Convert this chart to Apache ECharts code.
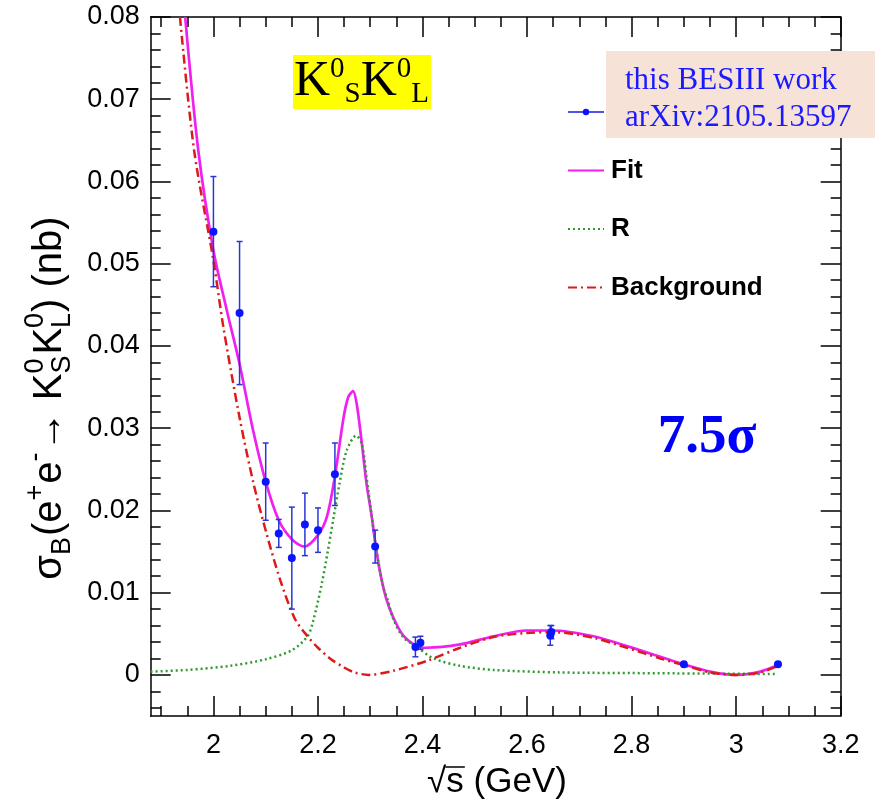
<!DOCTYPE html>
<html><head><meta charset="utf-8">
<script src="https://cdn.jsdelivr.net/npm/echarts@6/dist/echarts.min.js"></script>
<style>html,body{margin:0;padding:0;background:#fff}#c{width:875px;height:807px}</style>
</head><body><div id="c"></div>
<script>
// ---- data ----
const ptX   = [2.0, 2.05, 2.1, 2.125, 2.15, 2.175, 2.2, 2.2324, 2.3094, 2.3864, 2.396, 2.6444, 2.6464, 2.9, 3.08];
const ptY   = [0.0539, 0.0440, 0.0235, 0.0172, 0.0142, 0.0183, 0.0176, 0.0244, 0.0156, 0.0034, 0.0039, 0.0048, 0.0052, 0.0013, 0.0013];
const ptErr = [0.0067, 0.0087, 0.0047, 0.0017, 0.0062, 0.0038, 0.0027, 0.0038, 0.0020, 0.0012, 0.0008, 0.0012, 0.0008, 0.0001, 0.0001];

const fitX = [1.946, 1.971, 2.000, 2.025, 2.050, 2.075, 2.100, 2.125, 2.150, 2.174, 2.200, 2.217, 2.232, 2.249, 2.258, 2.267, 2.274, 2.284, 2.293, 2.303, 2.309, 2.317, 2.330, 2.344, 2.363, 2.389, 2.408, 2.472, 2.536, 2.600, 2.650, 2.727, 2.791, 2.855, 2.899, 2.950, 3.000, 3.046, 3.080];
const fitY = [0.0800, 0.0638, 0.0516, 0.0445, 0.0378, 0.0300, 0.0235, 0.0188, 0.0165, 0.0156, 0.0170, 0.0192, 0.0240, 0.0313, 0.0338, 0.0345, 0.0330, 0.0281, 0.0232, 0.0192, 0.0163, 0.0131, 0.0094, 0.0070, 0.0048, 0.0035, 0.0033, 0.0037, 0.0047, 0.0054, 0.0054, 0.0047, 0.0035, 0.0022, 0.0013, 0.0004, 0.0000, 0.0004, 0.0012];

const rX = [1.880, 1.950, 2.032, 2.100, 2.150, 2.180, 2.191, 2.207, 2.219, 2.230, 2.241, 2.255, 2.273, 2.284, 2.293, 2.303, 2.312, 2.325, 2.333, 2.344, 2.363, 2.389, 2.421, 2.472, 2.536, 2.663, 2.850, 3.080];
const rY = [0.0004, 0.0006, 0.0011, 0.0019, 0.0030, 0.0047, 0.0066, 0.0110, 0.0151, 0.0192, 0.0232, 0.0273, 0.0291, 0.0281, 0.0240, 0.0192, 0.0151, 0.0106, 0.0092, 0.0068, 0.0046, 0.0034, 0.0020, 0.0011, 0.0006, 0.0003, 0.0002, 0.0001];

const bgX = [1.936, 1.963, 2.000, 2.019, 2.050, 2.077, 2.102, 2.128, 2.156, 2.180, 2.200, 2.225, 2.250, 2.270, 2.297, 2.344, 2.408, 2.472, 2.536, 2.600, 2.650, 2.727, 2.791, 2.855, 2.899, 2.950, 3.000, 3.046, 3.080];
const bgY = [0.0800, 0.0638, 0.0504, 0.0423, 0.0313, 0.0232, 0.0171, 0.0115, 0.0068, 0.0047, 0.0033, 0.0019, 0.0009, 0.0003, 0.0000, 0.0005, 0.0017, 0.0033, 0.0046, 0.0051, 0.0052, 0.0045, 0.0033, 0.0020, 0.0012, 0.0003, 0.0000, 0.0003, 0.0011];

const xTicks = [2.0, 2.2, 2.4, 2.6, 2.8, 3.0, 3.2];
const xTickLabels = ['2', '2.2', '2.4', '2.6', '2.8', '3', '3.2'];
const yTicks = [0, 0.01, 0.02, 0.03, 0.04, 0.05, 0.06, 0.07, 0.08];
const yTickLabels = ['0', '0.01', '0.02', '0.03', '0.04', '0.05', '0.06', '0.07', '0.08'];

const xMin = 1.88, xMax = 3.2, yMin = -0.005, yMax = 0.08;

// minor tick positions (0.05 GeV and 0.002 nb steps)
const xMinor = [];
for (let i = 38; i <= 64; i++) { if (i % 4 !== 0) xMinor.push(i * 0.05); }
const yMinor = [];
for (let i = -2; i <= 40; i++) { if (i % 5 !== 0) yMinor.push(i * 0.002); }

// ---- helpers ----
const pair = (xs, ys) => xs.map((x, i) => [x, ys[i]]);
const SANS = 'Liberation Sans';
const SERIF = 'Liberation Serif';
const ctx = document.createElement('canvas').getContext('2d');
function tw(t, size, fam, weight) { ctx.font = (weight || 'normal') + ' ' + size + 'px "' + fam + '"'; return ctx.measureText(t).width; }

function buildTitle(pieces, M, S) {
  const kids = [];
  let x = 0;
  const supY = 0.36 * M - 0.47 * M - 0.36 * S;
  const subY = 0.36 * M + 0.20 * M - 0.36 * S;
  const mk = (t, size, xx, yy) => ({ type: 'text', x: xx, y: yy, style: { text: t, font: size + 'px "' + SANS + '"', fill: '#000', verticalAlign: 'middle', align: 'left' } });
  pieces.forEach(p => {
    if (p.stack) {
      kids.push(mk(p.stack[0], S, x, supY));
      kids.push(mk(p.stack[1], S, x, subY));
      x += Math.max(tw(p.stack[0], S, SANS), tw(p.stack[1], S, SANS)) + 1;
    } else if (p.sup) {
      kids.push(mk(p.t, S, x, supY)); x += tw(p.t, S, SANS) + 1;
    } else if (p.sub) {
      kids.push(mk(p.t, S, x, subY)); x += tw(p.t, S, SANS) + 1;
    } else {
      kids.push(mk(p.t, M, x, 0)); x += tw(p.t, M, SANS);
    }
  });
  kids.forEach(k => { k.x -= x / 2; });
  return { kids, width: x };
}

const yTitle = buildTitle([
  { t: 'σ' }, { t: 'B', sub: true }, { t: '(e' }, { t: '+', sup: true }, { t: 'e' }, { t: '-', sup: true },
  { t: '→ K' }, { stack: ['0', 'S'] }, { t: 'K' }, { stack: ['0', 'L'] }, { t: ') (nb)' }
], 40, 27);

const xtM = 35;
const xtW1 = tw('√', xtM, SANS), xtW2 = tw('s', xtM, SANS), xtW3 = tw(' (GeV)', xtM, SANS);
const xtW = xtW1 + xtW2 + xtW3;

const chart = echarts.init(document.getElementById('c'), null, { renderer: 'canvas' });

const axisCommon = { type: 'value', splitLine: { show: false } };
const lineBlack = { color: '#000', width: 1.5 };

function xAx(pos, major, labels) {
  return Object.assign({}, axisCommon, {
    position: pos, min: xMin, max: xMax,
    axisLine: { show: major, onZero: false, lineStyle: lineBlack },
    axisTick: { show: true, inside: true, length: major ? 20 : 10, customValues: major ? xTicks : xMinor, lineStyle: lineBlack },
    axisLabel: labels ? {
      show: true, customValues: xTicks, margin: 16, color: '#000', fontSize: 27, fontFamily: SANS,
      formatter: v => xTickLabels[xTicks.findIndex(t => Math.abs(t - v) < 1e-6)]
    } : { show: false }
  });
}
function yAx(pos, major, labels) {
  return Object.assign({}, axisCommon, {
    position: pos, min: yMin, max: yMax,
    axisLine: { show: major, onZero: false, lineStyle: lineBlack },
    axisTick: { show: true, inside: true, length: major ? 20 : 10, customValues: major ? yTicks : yMinor, lineStyle: lineBlack },
    axisLabel: labels ? {
      show: true, customValues: yTicks, margin: 11, color: '#000', fontSize: 27, fontFamily: SANS,
      formatter: v => yTickLabels[yTicks.findIndex(t => Math.abs(t - v) < 1e-9)]
    } : { show: false }
  });
}

const hideSym = { opacity: 0 };
const option = {
  animation: false,
  backgroundColor: '#fff',
  grid: { left: 150.7, right: 34.3, top: 17, bottom: 91, containLabel: false },
  xAxis: [xAx('bottom', true, true), xAx('bottom', false, false), xAx('top', true, false), xAx('top', false, false)],
  yAxis: [yAx('left', true, true), yAx('left', false, false), yAx('right', true, false), yAx('right', false, false)],
  legend: {
    orient: 'vertical', left: 562, top: 94, itemWidth: 36, itemHeight: 8, itemGap: 32.5,
    selectedMode: false,
    textStyle: { fontSize: 26, fontWeight: 'bold', fontFamily: SANS, color: '#000', padding: [0, 0, 0, 2] },
    data: [
      { name: 'data', textStyle: { color: 'rgba(0,0,0,0)' }, lineStyle: { color: '#1a1ad8', width: 1.5, opacity: 1, type: 'solid' } },
      { name: 'Fit', itemStyle: hideSym },
      { name: 'R', itemStyle: hideSym },
      { name: 'Background', itemStyle: hideSym }
    ]
  },
  series: [
    { name: 'Fit', type: 'line', data: pair(fitX, fitY), smooth: 0.3, symbol: 'none', clip: true,
      lineStyle: { color: '#f020f0', width: 2.7 }, itemStyle: { color: '#f020f0' }, z: 2 },
    { name: 'R', type: 'line', data: pair(rX, rY), smooth: 0.3, symbol: 'none', clip: true,
      lineStyle: { color: '#2f9a2f', width: 2.5, type: [2, 3] }, itemStyle: { color: '#2f9a2f' }, z: 3 },
    { name: 'Background', type: 'line', data: pair(bgX, bgY), smooth: 0.3, symbol: 'none', clip: true,
      lineStyle: { color: '#dd1a1a', width: 2.5, type: [9, 4, 2, 4] }, itemStyle: { color: '#dd1a1a' }, z: 4 },
    { name: 'errors', type: 'custom', z: 5, clip: true,
      data: ptX.map((x, i) => [x, ptY[i] - ptErr[i], ptY[i] + ptErr[i]]),
      encode: { x: 0, y: [1, 2] },
      renderItem: (params, api) => {
        const x = api.value(0);
        const a = api.coord([x, api.value(1)]), b = api.coord([x, api.value(2)]);
        const cw = 3, st = { stroke: '#2a35d6', lineWidth: 1.5 };
        return { type: 'group', children: [
          { type: 'line', shape: { x1: a[0], y1: a[1], x2: b[0], y2: b[1] }, style: st },
          { type: 'line', shape: { x1: a[0] - cw, y1: a[1], x2: a[0] + cw, y2: a[1] }, style: st },
          { type: 'line', shape: { x1: b[0] - cw, y1: b[1], x2: b[0] + cw, y2: b[1] }, style: st }
        ] };
      } },
    { name: 'data', type: 'line', data: pair(ptX, ptY), symbol: 'circle', symbolSize: 8, showSymbol: true,
      lineStyle: { opacity: 0, width: 0 }, itemStyle: { color: '#0a14ff' }, z: 6 }
  ],
  graphic: [
    { type: 'rect', z: 100, shape: { x: 293, y: 55, width: 138, height: 54 }, style: { fill: '#ffff00' } },
    { type: 'text', z: 101, x: 294, y: 55, style: {
        text: '{k|K}{p|0}{b|S}{k|K}{p|0}{b|L}', verticalAlign: 'top', align: 'left',
        rich: {
          k: { fontSize: 50, fontFamily: SERIF, lineHeight: 54, verticalAlign: 'middle', fill: '#000' },
          p: { fontSize: 29, fontFamily: SERIF, lineHeight: 42, verticalAlign: 'top', fill: '#000' },
          b: { fontSize: 29, fontFamily: SERIF, lineHeight: 22, verticalAlign: 'bottom', fill: '#000' }
        } } },
    { type: 'rect', z: 100, shape: { x: 606, y: 51, width: 270, height: 87 }, style: { fill: '#f6e2d7' } },
    { type: 'text', z: 101, x: 625, y: 81, style: { text: 'this BESIII work', font: '31px "' + SERIF + '"', fill: '#1a1aff', verticalAlign: 'middle' } },
    { type: 'text', z: 101, x: 625, y: 118, style: { text: 'arXiv:2105.13597', font: '31px "' + SERIF + '"', fill: '#1a1aff', verticalAlign: 'middle' } },
    { type: 'text', z: 101, x: 707, y: 438, style: { text: '7.5σ', font: 'bold 55px "' + SERIF + '"', fill: '#0000ff', verticalAlign: 'middle', align: 'center' } },
    { type: 'group', z: 101, x: 50, y: 398, rotation: Math.PI / 2, children: yTitle.kids },
    { type: 'group', z: 101, x: 497 - xtW / 2, y: 782, children: [
        { type: 'text', x: 0, y: 0, style: { text: '√', font: xtM + 'px "' + SANS + '"', fill: '#000', verticalAlign: 'middle' } },
        { type: 'text', x: xtW1, y: 0, style: { text: 's', font: xtM + 'px "' + SANS + '"', fill: '#000', verticalAlign: 'middle' } },
        { type: 'line', shape: { x1: xtW1 - 1, y1: -15, x2: xtW1 + xtW2 + 1, y2: -15 }, style: { stroke: '#000', lineWidth: 1.5 } },
        { type: 'text', x: xtW1 + xtW2, y: 0, style: { text: ' (GeV)', font: xtM + 'px "' + SANS + '"', fill: '#000', verticalAlign: 'middle' } }
    ] }
  ]
};
chart.setOption(option);
</script></body></html>
